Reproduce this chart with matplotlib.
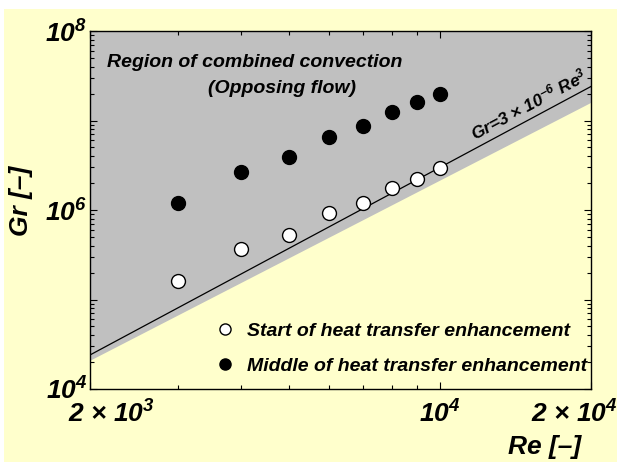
import matplotlib
matplotlib.use('Agg')
import matplotlib.pyplot as plt
import matplotlib.transforms as mtransforms
from matplotlib.patches import Rectangle

# data
re_pts = [3000, 4000, 5000, 6000, 7000, 8000, 9000, 10000]
gr_start = [1.6e5, 3.7e5, 5.2e5, 9.2e5, 1.2e6, 1.75e6, 2.2e6, 2.95e6]
gr_middle = [1.2e6, 2.65e6, 3.9e6, 6.5e6, 8.7e6, 1.24e7, 1.6e7, 1.98e7]

# boundary of the shaded region
re_edge = [2000, 20000]
gr_edge = [2.1e4, 1.6e7]

# correlation line Gr = 3e-6 Re^3
re_line = [2000, 20000]
gr_line = [3e-6 * r ** 3 for r in re_line]

xticks = [2000, 10000, 20000]
xlabels = ['2 × 10$^{3}$', '10$^{4}$', '2 × 10$^{4}$']
yticks = [1e4, 1e5, 1e6, 1e7, 1e8]
ylabels = ['10$^{4}$', '', '10$^{6}$', '', '10$^{8}$']

plt.rcParams['font.family'] = 'Liberation Sans'
plt.rcParams['font.weight'] = 'bold'
plt.rcParams['font.style'] = 'italic'
plt.rcParams['mathtext.fontset'] = 'custom'
plt.rcParams['mathtext.rm'] = 'Liberation Sans:bold:italic'
plt.rcParams['mathtext.it'] = 'Liberation Sans:bold:italic'
plt.rcParams['mathtext.bf'] = 'Liberation Sans:bold:italic'

yellow = '#FFFFCC'
fig = plt.figure(figsize=(6.21, 4.62), dpi=100, facecolor='white')
fig.patches.append(Rectangle((4 / 621, 0), 613 / 621, 453 / 462, transform=fig.transFigure,
                             facecolor=yellow, edgecolor='none', zorder=-10))

ax = fig.add_axes([90 / 621, 73 / 462, 501 / 621, 358 / 462])
ax.set_facecolor(yellow)
ax.set_xscale('log')
ax.set_yscale('log')
ax.set_xlim(2000, 20000)
ax.set_ylim(1e4, 1e8)

ax.fill_between(re_edge, gr_edge, 1e8, color='#C0C0C0', lw=0, zorder=1)
ax.plot(re_line, gr_line, color='black', lw=0.9, zorder=2)

ax.plot(re_pts, gr_start, 'o', ms=10, mfc='white', mec='black', mew=1,
        label='Start of heat transfer enhancement', zorder=3)
ax.plot(re_pts, gr_middle, 'o', ms=10, mfc='black', mec='black', mew=1,
        label='Middle of heat transfer enhancement', zorder=3)

ax.text(0.329, 0.913, 'Region of combined convection', transform=ax.transAxes,
        ha='center', va='center', fontsize=14)
ax.text(0.383, 0.838, '(Opposing flow)', transform=ax.transAxes,
        ha='center', va='center', fontsize=14)
ax.text(11700, 5.9e6, 'Gr=3 × 10$^{-6}$ Re$^{3}$', rotation=28, rotation_mode='anchor',
        ha='left', va='baseline', fontsize=12.5)

ax.legend(loc='upper left', bbox_to_anchor=(0.23, 0.213), frameon=False, fontsize=14,
          markerscale=0.8, handlelength=1.0, handletextpad=0.63, labelspacing=0.9,
          borderpad=0)

# ticks
ax.set_xticks(xticks)
ax.set_xticklabels(xlabels, fontsize=19)
ax.set_xticks([3000, 4000, 5000, 6000, 7000, 8000, 9000], minor=True)
ax.xaxis.set_minor_formatter(matplotlib.ticker.NullFormatter())
ax.set_yticks(yticks)
ax.set_yticklabels(ylabels, fontsize=19)
ax.yaxis.set_minor_locator(matplotlib.ticker.LogLocator(base=10, subs=range(2, 10)))
ax.yaxis.set_minor_formatter(matplotlib.ticker.NullFormatter())
ax.tick_params(which='both', direction='in', top=True, right=True, width=0.8)
ax.tick_params(which='major', length=5)
ax.tick_params(which='minor', length=3)
ax.tick_params(axis='x', which='major', pad=8)
ax.tick_params(axis='y', which='major', pad=2)

# shift end labels of x axis like the original
xl = ax.get_xticklabels()
xl[0].set_transform(xl[0].get_transform() + mtransforms.ScaledTranslation(0.21, 0, fig.dpi_scale_trans))
xl[2].set_transform(xl[2].get_transform() + mtransforms.ScaledTranslation(-0.17, 0, fig.dpi_scale_trans))

for s in ax.spines.values():
    s.set_linewidth(1)

fig.text(21 / 621, 1 - 201 / 462, 'Gr [–]', rotation=90, ha='center', va='center', fontsize=19)
fig.text(545 / 621, 1 - 447 / 462, 'Re [–]', ha='center', va='center', fontsize=19)

plt.savefig('out.png', dpi=100, facecolor='white')
